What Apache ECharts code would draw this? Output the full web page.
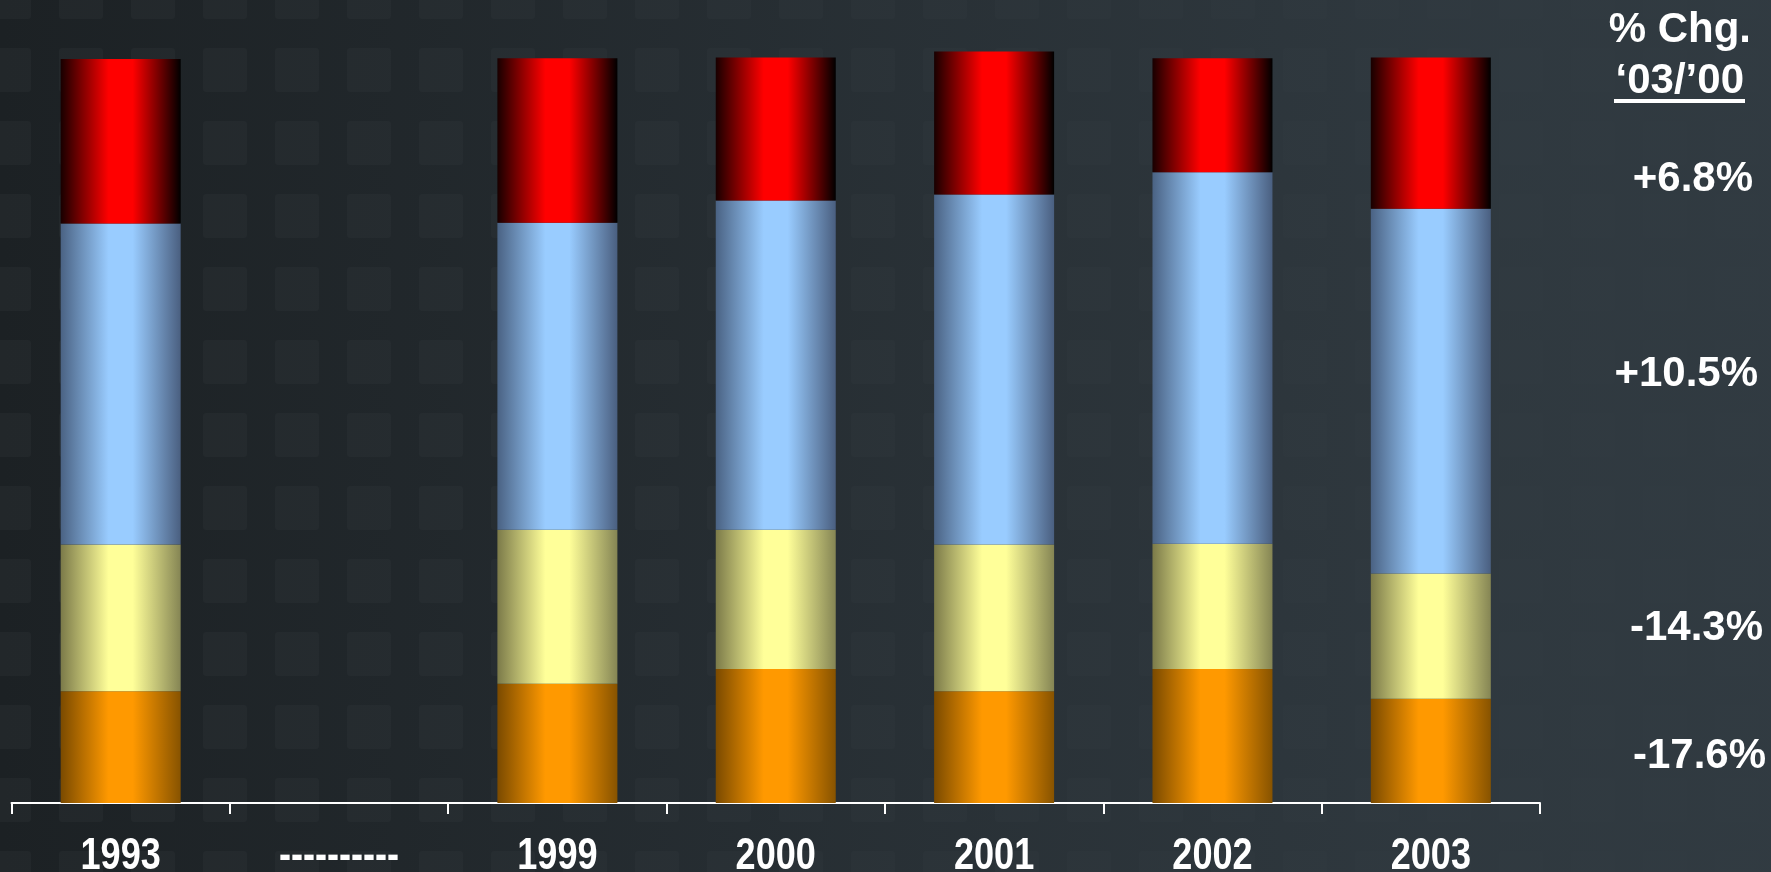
<!DOCTYPE html>
<html>
<head>
<meta charset="utf-8">
<script src="https://cdn.jsdelivr.net/npm/echarts@6/dist/echarts.min.js"></script>
<style>
  html, body { margin: 0; padding: 0; }
  body {
    width: 1771px; height: 872px; overflow: hidden;
    background-color: #1c2124;
    background-image:
      linear-gradient(to right, rgba(50,60,67,0) 0%, rgba(50,60,67,0.25) 25%, rgba(50,60,67,0.55) 50%, rgba(50,60,67,0.85) 80%, rgba(50,60,67,0.95) 100%),
      url("data:image/svg+xml;utf8,<svg xmlns='http://www.w3.org/2000/svg' width='72' height='73'><rect x='14' y='14' width='44' height='44' rx='4' fill='%23ffffff' fill-opacity='0.026'/></svg>");
    background-position: 0 0, 45px 34px;
    background-repeat: no-repeat, repeat;
    background-size: 100% 100%, 72px 73px;
  }
  #chart { position: absolute; left: 0; top: 0; width: 1771px; height: 872px; }
</style>
</head>
<body>
<div id="chart"></div>
<script>
// ---- Data (share of total, %) ----
var categories = ['1993', '----------', '1999', '2000', '2001', '2002', '2003'];
var orangeVals = [15.0, null, 16.0, 18.0, 15.0, 18.0, 14.0];
var yellowVals = [19.7, null, 20.7, 18.7, 19.7, 16.8, 16.8];
var blueVals   = [43.1, null, 41.2, 44.2, 47.0, 49.9, 49.0];
var redVals    = [22.1, null, 22.1, 19.2, 19.2, 15.3, 20.3];

var headerLine1 = '% Chg.';
var headerLine2 = '\u201803/\u201900';
var pctChanges = ['+6.8%', '+10.5%', '-14.3%', '-17.6%'];

// ---- Styling ----
function grad(edgeL, mid, edgeR) {
  return {
    type: 'linear', x: 0, y: 0, x2: 1, y2: 0,
    colorStops: [
      { offset: 0, color: edgeL },
      { offset: 0.4, color: mid },
      { offset: 0.6, color: mid },
      { offset: 1, color: edgeR }
    ]
  };
}
var FONT = '"Liberation Sans", Arial, Helvetica, sans-serif';

function barSeries(name, data, color) {
  return {
    name: name, type: 'bar', stack: 'total', data: data,
    barWidth: 120, clip: false,
    itemStyle: { color: color },
    emphasis: { disabled: true },
    animation: false
  };
}

var chart = echarts.init(document.getElementById('chart'), null, { renderer: 'canvas' });

var rightTexts = [
  { t: headerLine1, x: 1751, y: 30 },
  { t: headerLine2, x: 1744, y: 81 },
  { t: pctChanges[0], x: 1753, y: 179 },
  { t: pctChanges[1], x: 1758, y: 374 },
  { t: pctChanges[2], x: 1763, y: 628 },
  { t: pctChanges[3], x: 1766, y: 756 }
];

var graphics = rightTexts.map(function (r) {
  return {
    type: 'text', x: r.x, y: r.y, silent: true,
    style: {
      text: r.t, fill: '#ffffff', font: 'bold 42px ' + FONT,
      align: 'right', verticalAlign: 'middle'
    }
  };
});
graphics.push({
  type: 'rect', silent: true,
  shape: { x: 1614, y: 99, width: 131, height: 4 },
  style: { fill: '#ffffff' }
});

// category labels: condensed bold text placed via the axis scale
var labelData = categories.map(function (c, i) { return [i, 0]; });

chart.setOption({
  backgroundColor: 'transparent',
  animation: false,
  grid: { left: 11.5, right: 231, top: 21, bottom: 69, containLabel: false, outerBoundsMode: 'none' },
  xAxis: {
    type: 'category',
    data: categories,
    boundaryGap: true,
    axisLine: { show: true, lineStyle: { color: '#ffffff', width: 2 } },
    axisTick: { show: true, interval: 0, length: 11, lineStyle: { color: '#ffffff', width: 2 } },
    axisLabel: { show: false },
    splitLine: { show: false }
  },
  yAxis: {
    type: 'value', min: 0, max: 105, show: false,
    splitLine: { show: false }
  },
  series: [
    barSeries('Orange', orangeVals, grad('#7a4a00', '#ff9900', '#875300')),
    barSeries('Yellow', yellowVals, grad('#7b7a49', '#ffff99', '#858554')),
    barSeries('Blue', blueVals, grad('#4a6283', '#99ccff', '#4a5f80')),
    barSeries('Red', redVals, grad('#180000', '#ff0000', '#000000')),
    {
      name: 'labels', type: 'custom', data: labelData, clip: false, silent: true,
      animation: false,
      renderItem: function (params, api) {
        var idx = api.value(0);
        var pt = api.coord([idx, 0]);
        return {
          type: 'text',
          x: pt[0], y: pt[1] + 32,
          scaleX: 0.82,
          style: {
            text: categories[idx], fill: '#ffffff',
            font: 'bold 44px ' + FONT,
            align: 'center', verticalAlign: 'top'
          }
        };
      }
    }
  ],
  graphic: graphics
});
</script>
</body>
</html>
